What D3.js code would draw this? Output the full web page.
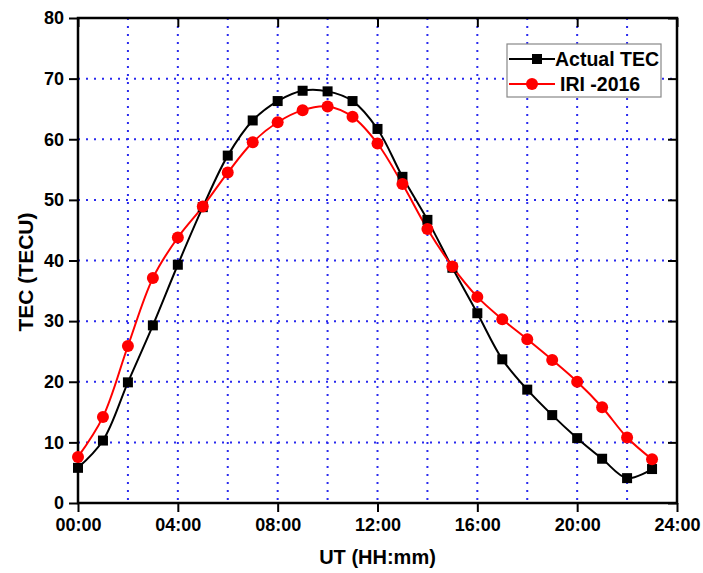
<!DOCTYPE html>
<html>
<head>
<meta charset="utf-8">
<script src="https://cdn.jsdelivr.net/npm/d3@7"></script>
<style>
  body { margin: 0; background: #fff; }
  text { font-family: "Liberation Sans", Arial, sans-serif; font-weight: bold; }
</style>
</head>
<body>
<div class="chart"></div>
<script>
var width = 703;
var height = 573;
var margin = {top: 18, right: 26, bottom: 70, left: 78};

var hours = [0, 1, 2, 3, 4, 5, 6, 7, 8, 9, 10, 11, 12, 13, 14, 15, 16, 17, 18, 19, 20, 21, 22, 23];
var actualTEC = [5.8, 10.3, 19.9, 29.3, 39.3, 48.8, 57.3, 63.1, 66.3, 68.0, 67.9, 66.3, 61.7,
    53.8, 46.7, 38.8, 31.3, 23.7, 18.7, 14.5, 10.7, 7.3, 4.1, 5.6];
var iri2016 = [7.6, 14.2, 25.9, 37.1, 43.8, 48.9, 54.5, 59.5, 62.8, 64.8, 65.4, 63.7, 59.3,
    52.6, 45.2, 39.0, 34.0, 30.3, 27.0, 23.6, 20.0, 15.8, 10.8, 7.2];
var xTicks = [0, 4, 8, 12, 16, 20, 24];
var xTickLabels = ["00:00", "04:00", "08:00", "12:00", "16:00", "20:00", "24:00"];
var yTicks = [0, 10, 20, 30, 40, 50, 60, 70, 80];
var xGrid = [2, 4, 6, 8, 10, 12, 14, 16, 18, 20, 22];
var yGrid = [10, 20, 30, 40, 50, 60, 70];
var seriesNames = ["Actual TEC", "IRI -2016"];

var x = d3.scaleLinear().domain([0, 24]).range([margin.left, width - margin.right]);
var y = d3.scaleLinear().domain([0, 80]).range([height - margin.bottom, margin.top]);

var svg = d3.select(".chart")
    .append("svg")
    .attr("width", width)
    .attr("height", height);

// grid
svg.append("g").selectAll("line")
    .data(xGrid)
    .enter().append("line")
    .attr("x1", function(d) { return x(d); })
    .attr("x2", function(d) { return x(d); })
    .attr("y1", y(80))
    .attr("y2", y(0))
    .attr("stroke", "#2a2aee")
    .attr("stroke-width", 2)
    .attr("stroke-dasharray", "2,6");

svg.append("g").selectAll("line")
    .data(yGrid)
    .enter().append("line")
    .attr("x1", x(0))
    .attr("x2", x(24))
    .attr("y1", function(d) { return y(d); })
    .attr("y2", function(d) { return y(d); })
    .attr("stroke", "#2a2aee")
    .attr("stroke-width", 2)
    .attr("stroke-dasharray", "2,6");

// axes
var xAxis = d3.axisBottom(x).tickValues(xTicks)
    .tickFormat(function(d, i) { return xTickLabels[i]; })
    .tickSizeInner(9).tickSizeOuter(0).tickPadding(6);
var yAxis = d3.axisLeft(y).tickValues(yTicks)
    .tickSizeInner(9).tickSizeOuter(0).tickPadding(5);

svg.append("g")
    .attr("transform", "translate(0," + y(0) + ")")
    .call(xAxis);
svg.append("g")
    .attr("transform", "translate(" + x(0) + ",0)")
    .call(yAxis);

svg.append("g")
    .attr("transform", "translate(0," + y(80) + ")")
    .call(d3.axisBottom(x).tickValues(xTicks).tickFormat("").tickSizeInner(9).tickSizeOuter(0));
svg.append("g")
    .attr("transform", "translate(" + x(24) + ",0)")
    .call(d3.axisRight(y).tickValues(yTicks).tickFormat("").tickSizeInner(-9).tickSizeOuter(0));

svg.selectAll(".domain").remove();
svg.selectAll(".tick line").attr("stroke", "#000").attr("stroke-width", 2);
svg.selectAll(".tick text").style("font-size", "18px").attr("fill", "#000");

// frame
svg.append("rect")
    .attr("x", x(0))
    .attr("y", y(80))
    .attr("width", x(24) - x(0))
    .attr("height", y(0) - y(80))
    .attr("fill", "none")
    .attr("stroke", "#000")
    .attr("stroke-width", 2.5);

// lines
var line = d3.line()
    .x(function(d, i) { return x(hours[i]); })
    .y(function(d) { return y(d); })
    .curve(d3.curveCatmullRom.alpha(0.5));

svg.append("path")
    .datum(actualTEC)
    .attr("d", line)
    .attr("fill", "none")
    .attr("stroke", "#000")
    .attr("stroke-width", 2);

svg.append("path")
    .datum(iri2016)
    .attr("d", line)
    .attr("fill", "none")
    .attr("stroke", "#ff0000")
    .attr("stroke-width", 2);

svg.append("g").selectAll("rect")
    .data(actualTEC)
    .enter().append("rect")
    .attr("x", function(d, i) { return x(hours[i]) - 5; })
    .attr("y", function(d) { return y(d) - 5; })
    .attr("width", 10)
    .attr("height", 10)
    .attr("fill", "#000");

svg.append("g").selectAll("circle")
    .data(iri2016)
    .enter().append("circle")
    .attr("cx", function(d, i) { return x(hours[i]); })
    .attr("cy", function(d) { return y(d); })
    .attr("r", 6)
    .attr("fill", "#ff0000");

// legend
var legend = svg.append("g").attr("transform", "translate(507,44)");
legend.append("rect")
    .attr("width", 154)
    .attr("height", 53)
    .attr("fill", "#fff")
    .attr("stroke", "#888")
    .attr("stroke-width", 1.2);

legend.append("line")
    .attr("x1", 2).attr("x2", 48).attr("y1", 15).attr("y2", 15)
    .attr("stroke", "#000").attr("stroke-width", 2);
legend.append("rect")
    .attr("x", 25).attr("y", 10).attr("width", 10).attr("height", 10)
    .attr("fill", "#000");
legend.append("text")
    .attr("x", 48).attr("y", 22)
    .style("font-size", "19.5px")
    .text(seriesNames[0]);

legend.append("line")
    .attr("x1", 2).attr("x2", 48).attr("y1", 40).attr("y2", 40)
    .attr("stroke", "#ff0000").attr("stroke-width", 2);
legend.append("circle")
    .attr("cx", 25).attr("cy", 40).attr("r", 6)
    .attr("fill", "#ff0000");
legend.append("text")
    .attr("x", 53).attr("y", 47)
    .style("font-size", "19.5px")
    .text(seriesNames[1]);

// axis titles
svg.append("text")
    .attr("x", (x(0) + x(24)) / 2)
    .attr("y", 564)
    .attr("text-anchor", "middle")
    .style("font-size", "20px")
    .text("UT (HH:mm)");

svg.append("text")
    .attr("transform", "translate(33,272) rotate(-90)")
    .attr("text-anchor", "middle")
    .style("font-size", "21px")
    .text("TEC (TECU)");
</script>
</body>
</html>
